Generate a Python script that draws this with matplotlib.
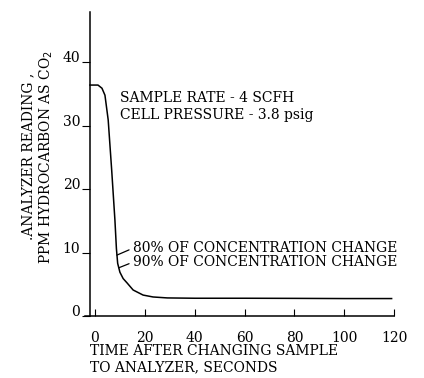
import matplotlib as mpl
mpl.use('Agg')
from matplotlib import pyplot as plt
import numpy as np

# response curve
time = [-2, 1.2, 2.8, 4.0, 5.3, 6.7, 8.0, 8.6, 9.1, 10.0, 11.3, 12.9, 15.3, 19.3, 23.3, 29, 40, 60, 80, 100, 119]
reading = [36.4, 36.4, 35.9, 34.8, 30.9, 23.0, 15.1, 10.6, 8.3, 6.9, 5.9, 5.2, 4.1, 3.3, 3.0, 2.85, 2.8, 2.8, 2.78, 2.75, 2.75]

xticks = [0, 20, 40, 60, 80, 100, 120]
yticks = [0, 10, 20, 30, 40]

notes = ['80% OF CONCENTRATION CHANGE', '90% OF CONCENTRATION CHANGE']
note_level = [9.6, 7.6]      # where the leader touches the curve
note_text_y = [10.7, 8.5]

plt.rcParams['font.family'] = 'DejaVu Serif'
plt.rcParams['font.size'] = 10

fig = plt.figure(figsize=(4.24, 3.78), dpi=100)
ax = fig.add_axes([0.2005, 0.164, 0.729, 0.804])

ax.plot(time, reading, color='black', lw=1.1)
ax.set_xlim(-4, 120)
ax.set_ylim(0, 47.9)

for s in ['top', 'right']:
    ax.spines[s].set_visible(False)
for s in ['left', 'bottom']:
    ax.spines[s].set_linewidth(1.1)
ax.spines['left'].set_position(('data', -2))

ax.set_xticks(xticks)
ax.set_yticks(yticks)
ax.tick_params(axis='x', direction='in', length=5, pad=11)
ax.tick_params(axis='y', direction='out', length=6, pad=1)
for lab in ax.get_yticklabels():
    lab.set_verticalalignment('baseline')

ax.text(10, 33.0, 'SAMPLE RATE - 4 SCFH\nCELL PRESSURE - 3.8 psig',
        va='center', ha='left', linespacing=1.22)

rev_t = time[::-1]
rev_r = reading[::-1]
for txt, lev, ty in zip(notes, note_level, note_text_y):
    t = np.interp(lev, rev_r, rev_t)
    ax.annotate(txt, xy=(t, lev), xytext=(15.3, ty), va='center', ha='left',
                arrowprops=dict(arrowstyle='-', lw=0.9, shrinkA=1, shrinkB=0,
                                relpos=(0, 0.5)))

fig.text(0.212, 0.05, 'TIME AFTER CHANGING SAMPLE\nTO ANALYZER, SECONDS',
         ha='left', va='center', linespacing=1.2)
fig.text(0.09, 0.585, '.ANALYZER READING ,\nPPM HYDROCARBON AS CO$_2$',
         ha='center', va='center', rotation=90, linespacing=1.25)

fig.savefig('out.png', dpi=100)
